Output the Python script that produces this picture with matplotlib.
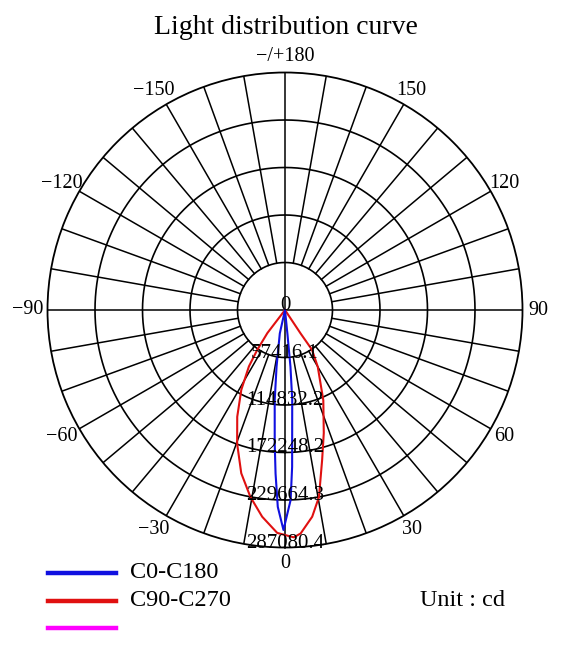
import numpy as np
import matplotlib
matplotlib.use("Agg")
import matplotlib.pyplot as plt
from matplotlib.lines import Line2D

plt.rcParams['font.family'] = ['Liberation Serif', 'DejaVu Serif']

# rings (cd) and angle labels
ring_values = [57416.1, 114832.2, 172248.2, 229664.3, 287080.4]
ring_labels = ["0", "57416.1", "114832.2", "172248.2", "229664.3", "287080.4"]
angle_ticks = [0, 30, 60, 90, 120, 150, 180, -150, -120, -90, -60, -30]
angle_labels = ["0", "30", "60", "90", "120", "150", "\u2212/+180",
                "\u2212150", "\u2212120", "\u221290", "\u221260", "\u221230"]

# C0-C180 (blue)
blue_deg = [-15, -12.5, -8.5, -6.5, -4.4, -3.3, -2.1, -0.4, 1.7, 2.6, 4.6, 5.5, 5.8, 7]
blue_cd = [0, 29000, 68900, 110000, 162000, 198200, 238100, 265900,
           229700, 189800, 108800, 68900, 29000, 0]
# C90-C270 (red)
red_deg = [-40, -37.4, -34.8, -32.6, -28.7, -24.1, -19.7, -15, -10.5, -6.3, -2,
           2.2, 4, 7.5, 10.3, 13.9, 17.5, 23, 30, 34.2, 33.6, 36]
red_cd = [0, 35100, 59200, 81000, 110000, 141400, 171600, 204300, 229700, 251400, 269600,
          275000, 270800, 252000, 229700, 186800, 155900, 118500, 79200, 58000, 33800, 0]

legend_names = ["C0-C180", "C90-C270", ""]
legend_colors = ["#1010e0", "#e01010", "#ff00ff"]

W, H = 569, 648
fig = plt.figure(figsize=(W / 100, H / 100), dpi=100)
cx, cy, R = 285, 310, 237.5
ax = fig.add_axes([(cx - R) / W, (H - cy - R) / H, 2 * R / W, 2 * R / H], projection='polar')
ax.set_theta_zero_location('S'); ax.set_theta_direction(1)
rmax = ring_values[-1]
ax.set_ylim(0, rmax)
ax.set_xticks([]); ax.set_yticks([]); ax.grid(False)
ax.spines['polar'].set_linewidth(1.3); ax.spines['polar'].set_color('black')

# rings
th = np.linspace(0, 2 * np.pi, 721)
for rv in ring_values[:-1]:
    ax.plot(th, np.full_like(th, rv), color='black', lw=1.2, zorder=1)
# spokes
for t in range(0, 360, 10):
    r0 = 0 if t % 90 == 0 else ring_values[0]
    ax.plot([np.radians(t)] * 2, [r0, rmax], color='black', lw=1.1, zorder=1)

# curves
ax.plot(np.radians(red_deg), red_cd, color=legend_colors[1], lw=1.5, zorder=3)
ax.plot(np.radians(blue_deg), blue_cd, color=legend_colors[0], lw=1.5, zorder=3)

# ring labels along 0 direction
for rv, lab in zip([0] + ring_values, ring_labels):
    ax.text(0, rv, lab, ha='center', va='baseline', fontsize=15, zorder=4)
# angle labels (negative ones shifted so the digits mirror the positive side)
for a, lab in zip(angle_ticks, angle_labels):
    dx = -3 if a < 0 else 0
    ax.annotate(lab, xy=(np.radians(a), rmax * 1.067), xytext=(dx, 0),
                textcoords='offset points', ha='center', va='center', fontsize=14.5,
                annotation_clip=False)

fig.text(286 / W, 1 - 27 / H, "Light distribution curve", ha='center', va='center', fontsize=20)

# legend
for i, (name, col) in enumerate(zip(legend_names, legend_colors)):
    y = 1 - (573 + 27.5 * i) / H
    fig.add_artist(Line2D([48 / W, 116 / W], [y, y], color=col, lw=3.2))
    if name:
        fig.text(130 / W, y, name, ha='left', va='center', fontsize=17.5)
fig.text(420 / W, 1 - 600 / H, "Unit : cd", ha='left', va='center', fontsize=17.5)

fig.savefig("out.png", dpi=100)
